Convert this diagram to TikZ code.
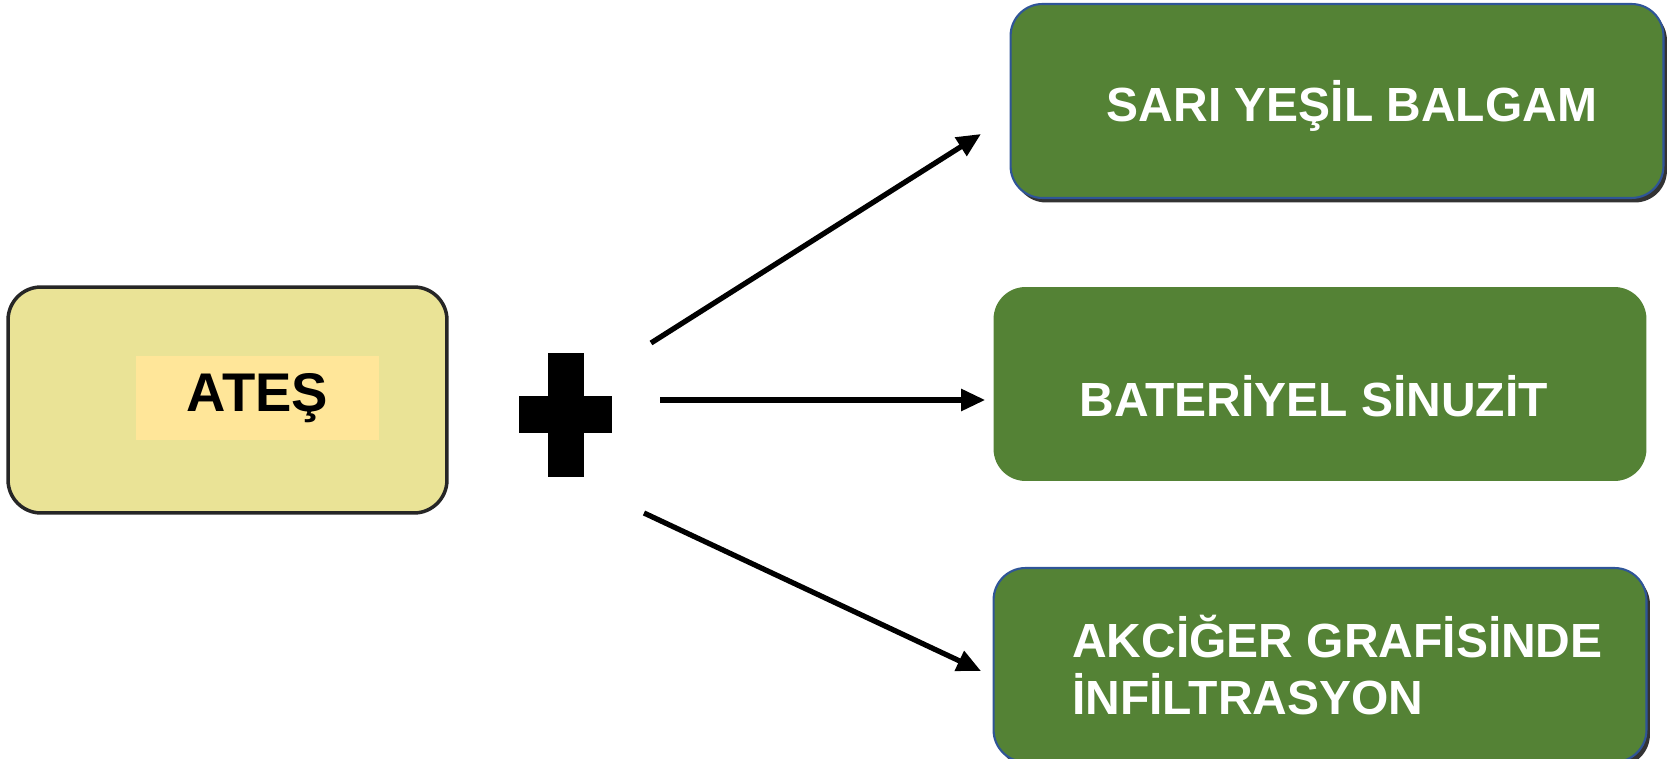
\documentclass[tikz,border=0pt]{standalone}
\usepackage{fontspec}
\setmainfont{Liberation Sans}
\usepackage{tikz}
\usetikzlibrary{positioning}
\usetikzlibrary{arrows.meta,shadows}
\definecolor{khaki}{HTML}{EAE396}
\definecolor{pale}{HTML}{FFE699}
\definecolor{leaf}{HTML}{548235}
\definecolor{rim}{HTML}{2F5597}
\newcommand{\dropText}[2]{\raisebox{-#1}[\height][\depth]{#2}}
\tikzset{
  every node/.style={
    align=center,
    draw=none,
  },
  arr/.style={-{Triangle[length=0.48cm,width=0.42cm]}, line width=3pt},
  causebox/.style={rounded corners=0.66cm, fill=khaki, draw=black!85, line width=2pt,
    minimum width=8.78cm, minimum height=4.52cm},
  tag/.style={fill=pale, minimum width=4.86cm, minimum height=1.68cm,
    font=\fontsize{31}{36}\selectfont\bfseries},
  resultbox/.style={rounded corners=0.64cm, fill=leaf, text=white,
    minimum width=13.06cm, minimum height=3.88cm,
    font=\fontsize{27.3}{32.5}\selectfont\bfseries},
  framed/.style={draw=rim, line width=1.2pt,
    drop shadow={shadow xshift=0.07cm, shadow yshift=-0.09cm, fill=black!80, opacity=1}},
}

\begin{document}
\begin{tikzpicture}[x=0.02cm, y=0.02cm]
    \useasboundingbox (0,-759) rectangle (1669,0);
    \node[causebox] (fever) at (227.5,-400) {};
    \node[tag] (ates) at (257.5,-398) {ATEŞ};
    % plus sign
    \fill (548,-353) rectangle (584,-477);
    \fill (519,-396) rectangle (612,-433);
    \node[resultbox, framed] (sputum) at (1337,-101)
      {\dropText{0.1cm}{\hspace*{0.6cm}SARI YEŞİL BALGAM}};
    \node[resultbox] (sinus) at (1320,-384)
      {\dropText{0.24cm}{\hspace*{-0.25cm}BATERİYEL SİNUZİT}};
    \node[resultbox, framed, align=left] (xray) at (1320,-665)
      {\hspace*{0.7cm}AKCİĞER GRAFİSİNDE\\\hspace*{0.7cm}İNFİLTRASYON};
    \coordinate (up) at (651,-343);
    \coordinate (mid) at (660,-400);
    \coordinate (down) at (644,-513);
    \coordinate (upend) at (981,-134);
    \coordinate (downend) at (981,-671);
    \draw[arr] (up) -- (upend);
    \draw[arr, shorten >=0.16cm] (mid) -- (mid -| sinus.west);
    \draw[arr] (down) -- (downend);
  \end{tikzpicture}
\end{document}
